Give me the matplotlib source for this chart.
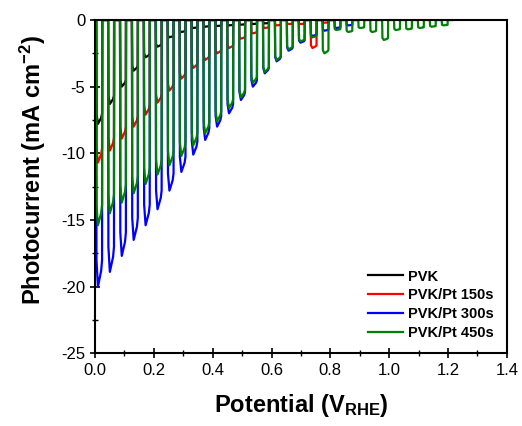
import numpy as np
import matplotlib
matplotlib.use("Agg")
from matplotlib import pyplot as plt
from matplotlib.ticker import MultipleLocator, FormatStrFormatter

# chopped-light LSV: photocurrent minimum of every light-on pulse (mA cm-2)
pvk = [-7.8, -6.3, -5.0, -3.8, -2.8, -2.0, -1.3, -0.9, -0.6, -0.5,
       -0.45, -0.4, -0.35, -0.3, -0.25]
pvk_pt150 = [-10.7, -9.8, -8.9, -8.0, -7.1, -6.2, -5.3, -4.4, -3.6, -3.0,
             -2.5, -2.1, -1.4, -1.0, -0.6, -0.4, -0.3, -0.3, -2.1, -0.2]
pvk_pt300 = [-20.0, -18.9, -17.7, -16.5, -15.4, -14.2, -12.8, -11.4, -10.1, -9.0,
             -8.0, -7.0, -6.0, -5.0, -4.0, -3.1, -2.3, -1.7, -1.2, -0.8,
             -0.6, -0.4]
pvk_pt450 = [-15.4, -14.5, -13.7, -13.0, -12.3, -11.6, -10.9, -10.2, -9.4, -8.5,
             -7.6, -6.6, -5.8, -4.7, -3.9, -3.0, -2.2, -1.6, -1.3, -2.5,
             -0.75, -0.9, -0.6, -0.9, -1.5, -0.75, -0.7, -0.6, -0.5, -0.4]

labels = ["PVK", "PVK/Pt 150s", "PVK/Pt 300s", "PVK/Pt 450s"]
colors = ["black", "red", "blue", "green"]

# chopping: light on every 0.0405 V for 0.02 V
chop_start = 0.004
chop_period = 0.0405
on_width = 0.02
# pulse outline (fraction of on_width, fraction of the pulse minimum)
pulse_x = [0.0, 0.05, 0.3, 0.85, 1.0, 1.02]
pulse_y = [0.0, 0.9, 1.0, 0.94, 0.9, 0.0]


def chopped_trace(minima):
    v = [0.0]
    j = [0.0]
    for k, m in enumerate(minima):
        s = chop_start + k * chop_period
        for fx, fy in zip(pulse_x, pulse_y):
            v.append(s + fx * on_width)
            j.append(fy * m)
    v.append(chop_start + len(minima) * chop_period)
    j.append(0.0)
    return np.array(v), np.array(j)


plt.rcParams['font.family'] = ['Liberation Sans', 'DejaVu Sans']
plt.rcParams['axes.unicode_minus'] = False
plt.rcParams['mathtext.fontset'] = 'custom'
plt.rcParams['mathtext.rm'] = 'Liberation Sans:bold'
plt.rcParams['mathtext.bf'] = 'Liberation Sans:bold'
plt.rcParams['mathtext.it'] = 'Liberation Sans:bold'

fig = plt.figure(figsize=(5.22, 4.26), dpi=100)
ax = fig.add_axes([0.182, 0.171, 0.789, 0.782])

for data, lab, col in zip([pvk, pvk_pt150, pvk_pt300, pvk_pt450], labels, colors):
    v, j = chopped_trace(data)
    ax.plot(v, j, color=col, lw=1.6, label=lab)

ax.set_xlim(0, 1.4)
ax.set_ylim(-25, 0)
ax.xaxis.set_major_locator(MultipleLocator(0.2))
ax.xaxis.set_minor_locator(MultipleLocator(0.1))
ax.yaxis.set_major_locator(MultipleLocator(5))
ax.yaxis.set_minor_locator(MultipleLocator(2.5))
ax.xaxis.set_major_formatter(FormatStrFormatter('%.1f'))
ax.tick_params(which='major', direction='inout', length=7, width=1.2,
               labelsize=12, colors='black')
ax.tick_params(which='minor', direction='inout', length=4, width=1.0)
for sp in ax.spines.values():
    sp.set_linewidth(1.5)
    sp.set_zorder(5)

ax.set_xlabel("Potential (V$_{\\mathrm{RHE}}$)", fontsize=17, fontweight='bold', labelpad=10)
ax.set_ylabel("Photocurrent (mA cm$^{-2}$)", fontsize=17, fontweight='bold')
ax.yaxis.set_label_coords(-0.113, 0.55)

leg = ax.legend(loc='lower right', bbox_to_anchor=(1.0, 0.0), frameon=False,
                prop={'weight': 'bold', 'size': 10.5}, handlelength=2.4,
                handletextpad=0.35, labelspacing=0.33)

fig.savefig("out.png", dpi=100)
